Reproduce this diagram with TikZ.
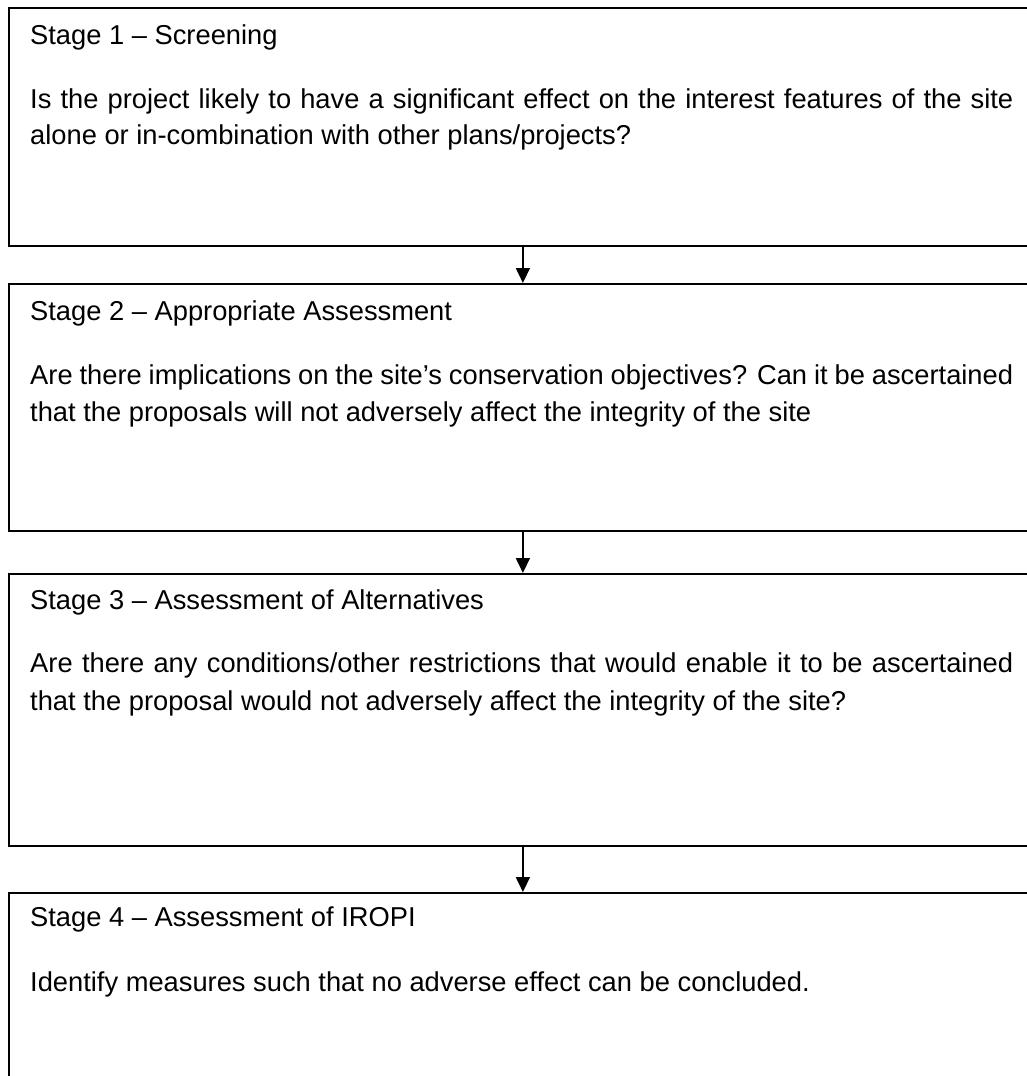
\documentclass[tikz,border=0pt]{standalone}
\usepackage{fontspec}
\setmainfont{Liberation Sans}
\usetikzlibrary{arrows.meta}
\begin{document}
\begin{tikzpicture}[x=1pt,y=-1pt,
  stagebox/.style={draw=black, line width=1.8pt, rectangle, anchor=north west, minimum width=1028pt, inner sep=0pt},
  txt/.style={anchor=base west, inner sep=0pt, font=\fontsize{27.3pt}{33pt}\selectfont},
  arr/.style={line width=1.8pt, -{Triangle[width=14pt,length=15pt]}}]
\useasboundingbox (0,0) rectangle (1027,1076);
\clip (0,0) rectangle (1027,1076);
\fill[white] (0,0) rectangle (1027,1076);
\node[stagebox, minimum height=238pt] (s1) at (8,7) {};
\node[stagebox, minimum height=247pt] (s2) at (8,283) {};
\node[stagebox, minimum height=272pt] (s3) at (8,573) {};
\node[stagebox, minimum height=260pt] (s4) at (8,892) {};
% stage 1
\node[txt] (h1) at (30,44) {Stage 1 – Screening};
\node[txt] (b1a) at (30,108) {\makebox[983pt][s]{Is the project likely to have a significant effect on the interest features of the site}};
\node[txt] (b1b) at (30,144.5) {alone or in-combination with other plans/projects?};
% stage 2
\node[txt] (h2) at (30,320) {Stage 2 – Appropriate Assessment};
\node[txt] (b2a) at (30,384) {\makebox[983pt][s]{Are there implications on the site’s conservation objectives? Can it be ascertained}};
\node[txt] (b2b) at (30,421) {that the proposals will not adversely affect the integrity of the site};
% stage 3
\node[txt] (h3) at (30,609) {Stage 3 – Assessment of Alternatives};
\node[txt] (b3a) at (30,672) {\makebox[983pt][s]{Are there any conditions/other restrictions that would enable it to be ascertained}};
\node[txt] (b3b) at (30,710) {that the proposal would not adversely affect the integrity of the site?};
% stage 4
\node[txt] (h4) at (30,926) {Stage 4 – Assessment of IROPI};
\node[txt] (b4a) at (30,991) {Identify measures such that no adverse effect can be concluded.};
% arrows
\draw[arr] (s1.south) -- (s2.north);
\draw[arr] (s2.south) -- (s3.north);
\draw[arr] (s3.south) -- (s4.north);
\end{tikzpicture}
\end{document}
